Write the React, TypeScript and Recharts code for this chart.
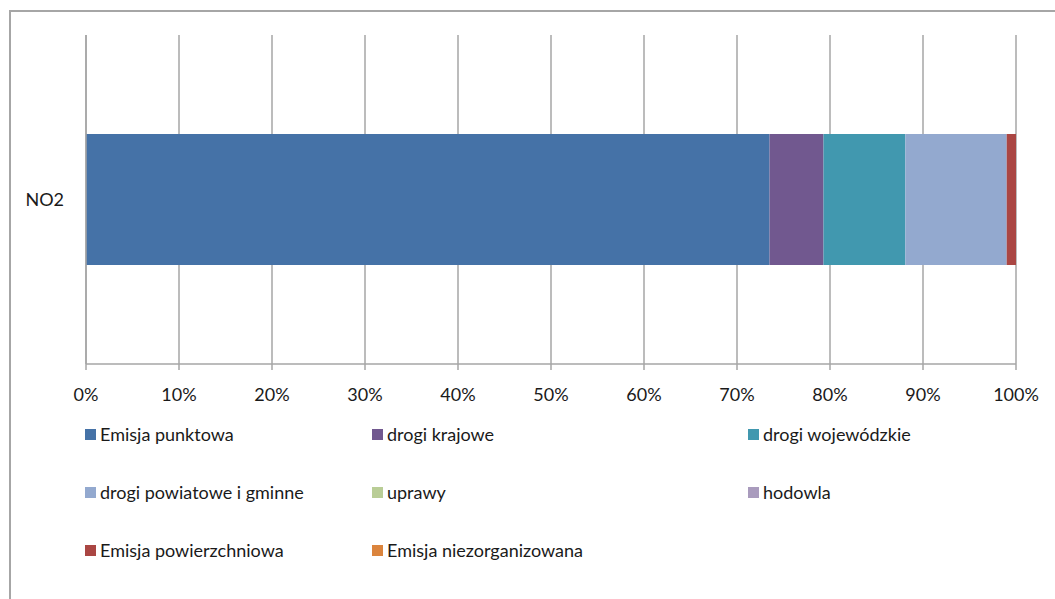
import React from 'react';
import {
  BarChart,
  Bar,
  XAxis,
  YAxis,
  CartesianGrid,
} from 'recharts';

// Source shares (%) of NO2 emission, one stacked bar
const categories = ['NO2'];

const seriesNames = [
  'Emisja punktowa',
  'drogi krajowe',
  'drogi wojewódzkie',
  'drogi powiatowe i gminne',
  'uprawy',
  'hodowla',
  'Emisja powierzchniowa',
  'Emisja niezorganizowana',
];

const seriesValues = [73.5, 5.8, 8.8, 10.9, 0, 0, 1.0, 0];

const seriesColors = [
  '#4572A7',
  '#71588F',
  '#4198AF',
  '#93A9CF',
  '#B9CD96',
  '#A99BBD',
  '#AA4643',
  '#DB843D',
];

const percentTicks = [0, 10, 20, 30, 40, 50, 60, 70, 80, 90, 100];

const FONT = 'Lato, "Open Sans", sans-serif';
const GRID = '#a6a6a6';

// legend sits in a 3-column grid under the axis
const legendCols = [85, 372, 748];
const legendRows = [434, 492, 550];

const data = categories.map((name) => {
  const row: Record<string, string | number> = { name };
  seriesNames.forEach((s, i) => {
    row[s] = seriesValues[i];
  });
  return row;
});

const LegendGrid: React.FC = () => (
  <>
    {seriesNames.map((name, i) => {
      const left = legendCols[i % 3];
      const top = legendRows[Math.floor(i / 3)];
      return (
        <div
          key={name}
          style={{
            position: 'absolute',
            left,
            top: top - 12,
            height: 24,
            display: 'flex',
            alignItems: 'center',
            whiteSpace: 'nowrap',
            fontFamily: FONT,
            fontSize: 18,
            color: '#1a1a1a',
          }}
        >
          <span
            style={{
              display: 'inline-block',
              width: 11,
              height: 11,
              background: seriesColors[i],
              marginRight: 4,
            }}
          />
          {name}
        </div>
      );
    })}
  </>
);

export default function App() {
  return (
    <div
      style={{
        position: 'absolute',
        left: 0,
        top: 0,
        width: 1055,
        height: 599,
        overflow: 'hidden',
        background: '#fff',
      }}
    >
      <div
        style={{
          position: 'absolute',
          left: 9,
          top: 10,
          width: 1200,
          height: 800,
          border: `2px solid ${GRID}`,
        }}
      />
      <div style={{ position: 'absolute', left: 0, top: 0 }}>
        <BarChart
          width={1055}
          height={599}
          data={data}
          layout="vertical"
          margin={{ top: 35, right: 39, left: 0, bottom: 0 }}
          barSize={131}
        >
          <CartesianGrid horizontal={false} stroke={GRID} strokeWidth={1.5} />
          <XAxis
            type="number"
            domain={[0, 100]}
            ticks={percentTicks}
            tickFormatter={(v: number) => `${v}%`}
            height={235}
            interval={0}
            axisLine={{ stroke: GRID, strokeWidth: 1.5 }}
            tickLine={{ stroke: GRID, strokeWidth: 1.5 }}
            tickSize={6}
            tickMargin={18}
            tick={{ fill: '#1a1a1a', fontFamily: FONT, fontSize: 18 }}
          />
          <YAxis
            type="category"
            dataKey="name"
            width={86}
            axisLine={{ stroke: GRID, strokeWidth: 1.5 }}
            tickLine={false}
            tickSize={0}
            tickMargin={22}
            tick={{ fill: '#1a1a1a', fontFamily: FONT, fontSize: 18 }}
          />
          {seriesNames.map((s, i) => (
            <Bar
              key={s}
              dataKey={s}
              stackId="a"
              fill={seriesColors[i]}
              isAnimationActive={false}
            />
          ))}
        </BarChart>
        <LegendGrid />
      </div>
    </div>
  );
}
